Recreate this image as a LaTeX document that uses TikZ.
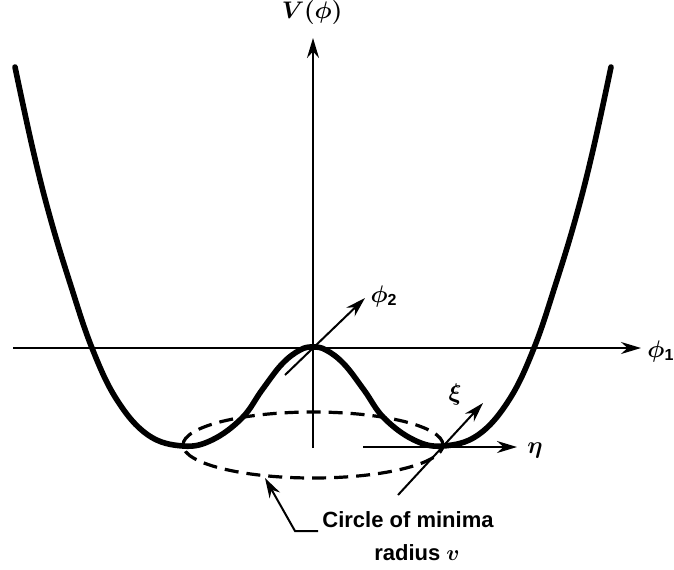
\documentclass[tikz,border=0pt]{standalone}
\usepackage{amsmath}
\usepackage{bm}
\usepackage{fontspec}
\setsansfont{Liberation Sans}
\usetikzlibrary{arrows.meta}
\begin{document}
\begin{tikzpicture}[x=0.5pt,y=-0.5pt,
  axis/.style={line width=1pt},
  tip/.style={-{Stealth[length=10pt,width=6pt]}},
  curve/.style={line width=2.8pt, line join=round, line cap=round},
  dashell/.style={line width=1.6pt, dash pattern=on 7pt off 4pt},
  lbl/.style={font=\sffamily\bfseries\fontsize{11}{13}\selectfont, inner sep=0pt},
  mlbl/.style={inner sep=0pt, font=\fontsize{12}{14}\selectfont}]
\useasboundingbox (0,0) rectangle (674,569);
% axes
\coordinate (Vbot) at (313,448);
\coordinate (Vtop) at (313,38);
\coordinate (Hl) at (13,348);
\coordinate (Hr) at (641,348);
\draw[axis,tip] (Vbot) -- (Vtop);
\draw[axis,tip] (Hl) -- (Hr);
% circle of minima
\coordinate (E) at (313,445);
\draw[dashell] (E) ellipse [x radius=65pt, y radius=16.5pt];
% potential curve
\draw[curve] plot[smooth,tension=0.65] coordinates {(15,67) (33,150) (50,217) (70,283) (92,348) (117,400) (148,435) (183,446) (212,440) (242,418) (262,390) (282,364) (300,350) (313,347) (326,350) (344,364) (364,390) (384,418) (414,440) (443,446) (478,435) (509,400) (534,348) (556,283) (576,217) (593,150) (611,67)};
% phi2 arrow
\coordinate (a2s) at (285,375);
\coordinate (a2e) at (365,298);
\draw[axis,tip] (a2s) -- (a2e);
% xi arrow
\coordinate (xs) at (398,495);
\coordinate (xe) at (483,403);
\draw[axis,tip] (xs) -- (xe);
% eta arrow
\coordinate (es) at (363,447);
\coordinate (ee) at (517,447);
\draw[axis,tip] (es) -- (ee);
% labels
\node[mlbl,font=\fontsize{13}{15}\selectfont] (Vl) at (312,12) {$\bm{V(\phi)}$};
\node[mlbl] (p2l) at (384,296) {$\bm{\phi}_{\textsf{\textbf{2}}}$};
\node[mlbl,anchor=west] (p1l) at (647,351) {$\bm{\phi}_{\textsf{\textbf{1}}}$};
\node[mlbl] (xil) at (455,394) {$\bm{\xi}$};
\node[mlbl] (etal) at (535,450) {$\bm{\eta}$};
\node[lbl] (circ) at (408,520) {Circle of minima};
\node[lbl] (rad) at (417,553) {radius $\bm{v}$};
% pointer
\coordinate (q1) at (318,531);
\coordinate (q2) at (295,531);
\coordinate (q3) at (265,478);
\draw[axis,tip] (q1) -- (q2) -- (q3);
\end{tikzpicture}
\end{document}
